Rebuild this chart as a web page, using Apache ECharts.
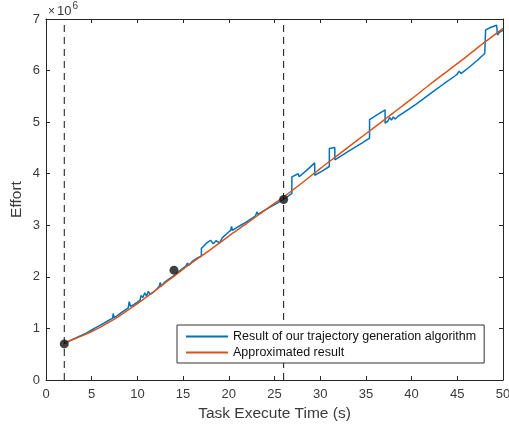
<!DOCTYPE html>
<html>
<head>
<meta charset="utf-8">
<script src="https://cdn.jsdelivr.net/npm/echarts@6/dist/echarts.min.js"></script>
<style>
  html, body { margin: 0; padding: 0; background: #fff; }
  #chart { width: 509px; height: 430px; }
</style>
</head>
<body>
<div id="chart"></div>
<script>
// effort values are in units of 10^6
const trajectoryResult = [
  [2.0, 0.70], [2.6, 0.76], [3.2, 0.81], [3.8, 0.86], [4.4, 0.91], [5.0, 0.97],
  [5.4, 1.01], [5.8, 1.05], [6.2, 1.09], [6.6, 1.13], [7.0, 1.17], [7.3, 1.20],
  [7.35, 1.29], [7.45, 1.21], [7.8, 1.25], [8.2, 1.30], [8.6, 1.35], [9.0, 1.40],
  [9.1, 1.52], [9.25, 1.43], [9.6, 1.46], [10.0, 1.51], [10.3, 1.55], [10.4, 1.64],
  [10.6, 1.60], [10.8, 1.69], [11.0, 1.63], [11.2, 1.72], [11.4, 1.66], [11.8, 1.71],
  [12.1, 1.76], [12.4, 1.82], [12.5, 1.89], [12.6, 1.82], [13.0, 1.90], [13.4, 1.95],
  [13.8, 2.00], [14.2, 2.05], [14.6, 2.11], [15.0, 2.17], [15.3, 2.21], [15.5, 2.27],
  [15.6, 2.22], [16.0, 2.30], [16.5, 2.36], [17.0, 2.40], [17.0, 2.55], [17.6, 2.66],
  [18.0, 2.71], [18.2, 2.74], [18.3, 2.64], [18.6, 2.70], [19.0, 2.66], [19.2, 2.63],
  [19.3, 2.76], [19.8, 2.84], [20.2, 2.90], [20.3, 2.98], [20.4, 2.90], [20.9, 2.96],
  [21.4, 3.01], [21.9, 3.06], [22.4, 3.12], [22.9, 3.18], [23.1, 3.26], [23.2, 3.21],
  [23.7, 3.27], [24.2, 3.32], [24.7, 3.37], [25.2, 3.42], [25.6, 3.46], [26.0, 3.50],
  [26.9, 3.62], [26.9, 3.94], [27.6, 4.00], [27.7, 3.94], [27.9, 3.97], [28.6, 4.08],
  [29.4, 4.21], [29.4, 3.97], [30.2, 4.05], [31.0, 4.14], [31.0, 4.49], [31.6, 4.51],
  [31.6, 4.27], [32.6, 4.38], [33.6, 4.49], [34.6, 4.60], [35.4, 4.69], [35.4, 5.05],
  [36.3, 5.15], [37.1, 5.24], [37.1, 4.98], [37.4, 5.02], [37.6, 5.09], [37.8, 5.04],
  [38.0, 5.10], [38.2, 5.06], [38.5, 5.11], [39.5, 5.23], [40.5, 5.35], [41.5, 5.48],
  [42.5, 5.61], [43.5, 5.74], [44.7, 5.89], [45.0, 5.93], [45.2, 5.99], [45.4, 5.94],
  [46.2, 6.05], [47.2, 6.20], [48.0, 6.33], [48.1, 6.79], [48.7, 6.84], [49.3, 6.88],
  [49.4, 6.69], [49.6, 6.74], [49.8, 6.72], [50.0, 6.78]
];

const approxTime = [2, 3, 4, 5, 6, 7, 8, 9, 10, 11, 12, 13, 14, 15, 16, 18, 20, 22, 24, 26,
  28, 30, 32, 34, 36, 38, 40, 42, 44, 46, 48, 50];
const approxEffort = [0.72, 0.79, 0.86, 0.94, 1.03, 1.13, 1.24, 1.36, 1.48, 1.61, 1.74, 1.88,
  2.01, 2.15, 2.28, 2.53, 2.79, 3.04, 3.30, 3.55, 3.82, 4.10, 4.37, 4.64, 4.91, 5.18, 5.45,
  5.73, 6.00, 6.27, 6.55, 6.82];

const markTimes = [2, 26];
const markPoints = [[2, 0.70], [14, 2.13], [26, 3.50]];

const xRange = [0, 50];
const yRange = [0, 7];

const seriesNames = ['Result of our trajectory generation algorithm', 'Approximated result'];

const axisColor = '#262626';
const textColor = '#3a3a3a';
const font = 'Liberation Sans, Arial, sans-serif';

const chart = echarts.init(document.getElementById('chart'));

const boxAxis = {
  min: 0,
  axisLine: { show: true, onZero: false, lineStyle: { color: axisColor, width: 1 } },
  axisTick: { show: true, inside: true, length: 4, lineStyle: { color: axisColor } },
  splitLine: { show: false }
};

const dashedSeries = markTimes.map(t => ({
  type: 'line',
  data: [[t, yRange[0]], [t, yRange[1]]],
  symbol: 'none',
  silent: true,
  lineStyle: { color: '#111', width: 1, type: [7, 5] },
  z: 3
}));

chart.setOption({
  animation: false,
  backgroundColor: '#fff',
  grid: { left: 46, right: 6, top: 19, bottom: 50, containLabel: false, outerBoundsMode: 'none' },
  graphic: [{
    type: 'text',
    left: 48,
    top: 1,
    style: {
      text: '{a|×}{b|10}{c|6}',
      rich: {
        a: { fontSize: 12, fontFamily: font, fill: textColor, padding: [6, 2, 0, 0] },
        b: { fontSize: 13, fontFamily: font, fill: textColor, padding: [6, 0, 0, 0] },
        c: { fontSize: 10, fontFamily: font, fill: textColor, padding: [0, 0, 5, 1] }
      }
    }
  }],
  legend: {
    data: seriesNames,
    orient: 'vertical',
    left: 177,
    top: 325,
    padding: [5, 8, 4, 8],
    itemGap: 3,
    itemWidth: 42,
    itemHeight: 14,
    itemStyle: { opacity: 0 },
    backgroundColor: '#fff',
    borderColor: '#333',
    borderWidth: 1,
    borderRadius: 0,
    textStyle: { fontSize: 12.5, fontFamily: font, color: '#111' }
  },
  xAxis: [
    Object.assign({}, boxAxis, {
      type: 'value',
      max: xRange[1],
      interval: 5,
      position: 'bottom',
      name: 'Task Execute Time (s)',
      nameLocation: 'middle',
      nameGap: 26,
      nameMoveOverlap: false,
      nameTextStyle: { fontSize: 15.5, fontFamily: font, color: textColor },
      axisLabel: { fontSize: 13, fontFamily: font, color: textColor, margin: 8 }
    }),
    Object.assign({}, boxAxis, {
      type: 'value',
      max: xRange[1],
      interval: 5,
      position: 'top',
      axisLabel: { show: false }
    })
  ],
  yAxis: [
    Object.assign({}, boxAxis, {
      type: 'value',
      max: yRange[1],
      interval: 1,
      position: 'left',
      name: 'Effort',
      nameLocation: 'middle',
      nameGap: 21,
      nameMoveOverlap: false,
      nameTextStyle: { fontSize: 15.5, fontFamily: font, color: textColor },
      axisLabel: { fontSize: 13, fontFamily: font, color: textColor, margin: 6 }
    }),
    Object.assign({}, boxAxis, {
      type: 'value',
      max: yRange[1],
      interval: 1,
      position: 'right',
      axisLabel: { show: false }
    })
  ],
  series: [
    {
      name: seriesNames[0],
      type: 'line',
      data: trajectoryResult,
      symbol: 'none',
      lineStyle: { color: '#0072BD', width: 1.5 },
      itemStyle: { color: '#0072BD' },
      z: 2
    },
    {
      name: seriesNames[1],
      type: 'line',
      data: approxTime.map((t, i) => [t, approxEffort[i]]),
      symbol: 'none',
      smooth: 0.3,
      lineStyle: { color: '#D95319', width: 1.5 },
      itemStyle: { color: '#D95319' },
      z: 3
    },
    ...dashedSeries,
    {
      type: 'scatter',
      data: markPoints,
      symbol: 'circle',
      symbolSize: 9,
      itemStyle: { color: '#111' },
      z: 5
    }
  ]
});
</script>
</body>
</html>
